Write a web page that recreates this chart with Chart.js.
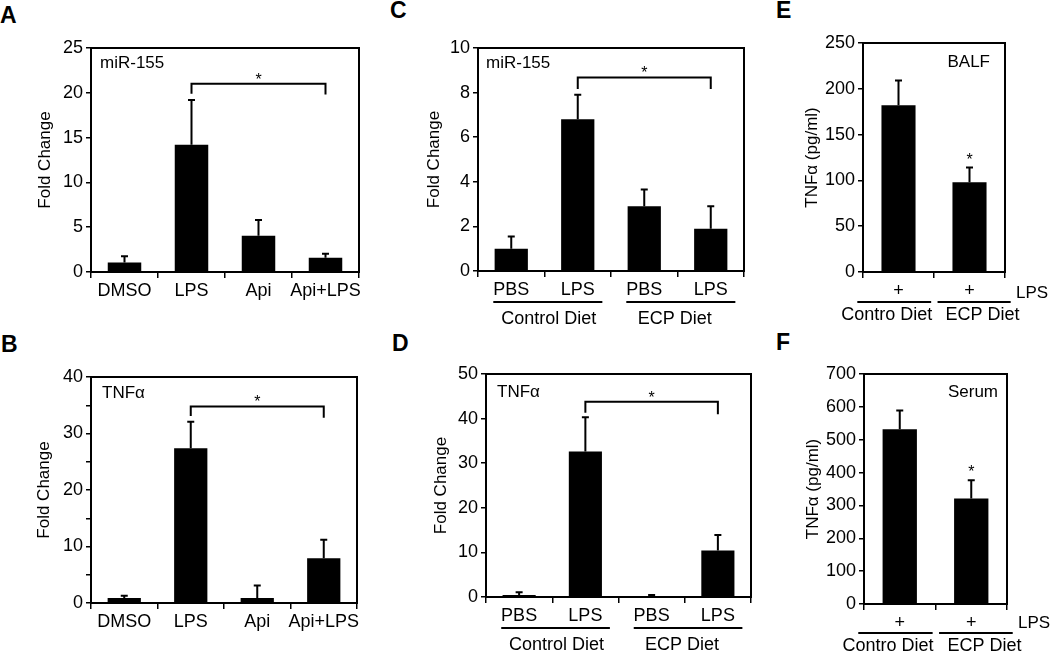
<!DOCTYPE html>
<html>
<head>
<meta charset="utf-8">
<script src="https://cdn.jsdelivr.net/npm/chart.js@4.4.1/dist/chart.umd.min.js"></script>
<style>
  body { margin: 0; width: 1050px; height: 654px; overflow: hidden; background: #fff; position: relative; }
  canvas { position: absolute; }
  .tag { position: absolute; font: bold 23px "Liberation Sans", Arial, sans-serif; line-height: 1; color: #000; }
</style>
</head>
<body>
<div class="tag" style="left:0px;top:4px">A</div>
<div class="tag" style="left:1px;top:333px">B</div>
<div class="tag" style="left:390px;top:-1px">C</div>
<div class="tag" style="left:392px;top:332px">D</div>
<div class="tag" style="left:776px;top:-1px">E</div>
<div class="tag" style="left:776px;top:331px">F</div>

<canvas id="cA"></canvas>
<canvas id="cB"></canvas>
<canvas id="cC"></canvas>
<canvas id="cD"></canvas>
<canvas id="cE"></canvas>
<canvas id="cF"></canvas>

<script>
// categories
const drugLabels = ['DMSO', 'LPS', 'Api', 'Api+LPS'];
const dietLabels = ['PBS', 'LPS', 'PBS', 'LPS'];
const dietGroups = ['Control Diet', 'ECP Diet'];
const lpsLabels = ['+', '+'];
const lpsGroups = ['Contro Diet', 'ECP Diet'];

// A: miR-155 fold change (cells)
const aMean = [1.05, 14.2, 4.05, 1.6];
const aSem = [0.7, 5.0, 1.75, 0.45];
// B: TNFa fold change (cells)
const bMean = [0.9, 27.4, 0.9, 7.9];
const bSem = [0.4, 4.7, 2.2, 3.3];
// C: miR-155 fold change (diet)
const cMean = [1.0, 6.8, 2.9, 1.9];
const cSem = [0.55, 1.1, 0.75, 1.0];
// D: TNFa fold change (diet)
const dMean = [0.45, 32.6, 0.2, 10.4];
const dSem = [0.6, 7.7, 0.25, 3.5];
// E: TNFa in BALF, pg/ml
const eMean = [182, 98];
const eSem = [27, 16];
// F: TNFa in serum, pg/ml
const fMean = [532, 321];
const fSem = [57, 56];

// y axes: [max, tick step, label every]
const aTicks = [25, 5, 5];
const bTicks = [40, 5, 10];
const cTicks = [10, 1, 2];
const dTicks = [50, 5, 10];
const eTicks = [250, 50, 50];
const fTicks = [700, 100, 100];

// significance brackets: [from, to, bracket value, left leg end, right leg end]
const aBracket = [1, 3, 21.0, 19.9, 19.8];
const bBracket = [1, 3, 34.8, 33.1, 32.8];
const cBracket = [1, 3, 8.68, 8.16, 8.16];
const dBracket = [1, 3, 43.8, 41.3, 41.0];
// star over the bar itself
const eSig = [false, true];
const fSig = [false, true];

const FONT = '"Liberation Sans", Arial, sans-serif';
const extras = {};

// error bars, box, brackets, labels that chart.js does not draw itself
const decorPlugin = {
    id: 'decor',
    afterDraw(chart) {
        const cfg = extras[chart.canvas.id];
        if (!cfg) return;
        const ctx = chart.ctx;
        const xs = chart.scales.x, ys = chart.scales.y, area = chart.chartArea;
        const mean = chart.data.datasets[0].data;
        const cw = (area.right - area.left) / mean.length;
        ctx.save();
        ctx.strokeStyle = '#000';
        ctx.fillStyle = '#000';
        ctx.lineWidth = 2;

        // frame round the plot
        ctx.strokeRect(area.left, area.top, area.right - area.left, area.bottom - area.top);

        // error bars (upper only)
        ctx.font = '16px ' + FONT;
        ctx.textAlign = 'center';
        ctx.textBaseline = 'alphabetic';
        cfg.sem.forEach((s, i) => {
            const px = xs.getPixelForValue(i);
            const y0 = ys.getPixelForValue(mean[i]);
            const y1 = ys.getPixelForValue(mean[i] + s);
            ctx.beginPath();
            ctx.moveTo(px, y0);
            ctx.lineTo(px, y1);
            ctx.moveTo(px - 3.5, y1);
            ctx.lineTo(px + 3.5, y1);
            ctx.stroke();
            if (cfg.sig && cfg.sig[i]) {
                ctx.fillText('*', px, y1 - 3);
            }
        });

        // bracket with star
        if (cfg.bracket) {
            const [i0, i1, v, e0, e1] = cfg.bracket;
            const x0 = xs.getPixelForValue(i0), x1 = xs.getPixelForValue(i1);
            const yy = ys.getPixelForValue(v);
            ctx.beginPath();
            ctx.moveTo(x0, ys.getPixelForValue(e0));
            ctx.lineTo(x0, yy);
            ctx.lineTo(x1, yy);
            ctx.lineTo(x1, ys.getPixelForValue(e1));
            ctx.stroke();
            ctx.fillText('*', (x0 + x1) / 2, yy + 1);
        }

        // label inside the plot
        ctx.font = '17px ' + FONT;
        ctx.textBaseline = 'middle';
        if (cfg.note) {
            const [align, dx, dy] = cfg.notePos;
            ctx.textAlign = align;
            const nx = align === 'left' ? area.left + dx : area.right - dx;
            ctx.fillText(cfg.note, nx, area.top + dy);
        }

        // group lines and names under the axis
        if (cfg.groups) {
            ctx.font = '18px ' + FONT;
            ctx.textAlign = 'center';
            cfg.spans.forEach((sp, g) => {
                const [first, last, a, b, shift] = sp;
                const gx0 = xs.getPixelForValue(first) - a * cw;
                const gx1 = xs.getPixelForValue(last) + b * cw;
                const ly = area.bottom + cfg.lineDy;
                ctx.beginPath();
                ctx.moveTo(gx0, ly);
                ctx.lineTo(gx1, ly);
                ctx.stroke();
                ctx.fillText(cfg.groups[g], (gx0 + gx1) / 2 + shift, area.bottom + cfg.textDy);
            });
        }
        if (cfg.side) {
            ctx.font = '17px ' + FONT;
            ctx.textAlign = 'left';
            ctx.fillText(cfg.side, area.right + 11, area.bottom + cfg.sideDy);
        }
        ctx.restore();
    }
};

function makePanel(p) {
    const canvas = document.getElementById(p.id);
    const padL = 70, padT = 20, padR = 50, padB = 62;
    canvas.width = (p.r - p.l) + padL + padR;
    canvas.height = (p.b - p.t) + padT + padB;
    canvas.style.left = (p.l - padL) + 'px';
    canvas.style.top = (p.t - padT) + 'px';
    extras[p.id] = p.extra;
    const [ymax, step, every] = p.ticks;

    new Chart(canvas, {
        type: 'bar',
        data: {
            labels: p.labels,
            datasets: [{
                data: p.mean,
                backgroundColor: '#000',
                borderWidth: 0,
                barPercentage: p.bar,
                categoryPercentage: 1
            }]
        },
        options: {
            responsive: false,
            animation: false,
            layout: { padding: { left: 0, top: padT, right: padR, bottom: 0 } },
            plugins: { legend: { display: false }, tooltip: { enabled: false } },
            scales: {
                x: {
                    offset: true,
                    afterFit: s => { s.height = padB; },
                    border: { display: true, color: '#000', width: 2 },
                    grid: { display: true, offset: true, drawOnChartArea: false, drawTicks: true, tickLength: 6, color: '#000', lineWidth: 1.5 },
                    ticks: { color: '#000', font: { family: FONT, size: 18 }, padding: 2, autoSkip: false, maxRotation: 0 }
                },
                y: {
                    min: 0,
                    max: ymax,
                    afterFit: s => { s.width = padL; },
                    border: { display: true, color: '#000', width: 2 },
                    grid: { display: true, drawOnChartArea: false, drawTicks: true, tickLength: 5, color: '#000', lineWidth: 1.5 },
                    ticks: {
                        stepSize: step,
                        color: '#000',
                        font: { family: FONT, size: 18 },
                        padding: 3,
                        callback: v => (v % every === 0 ? String(v) : '')
                    },
                    title: {
                        display: true,
                        text: p.title,
                        color: '#000',
                        font: { family: FONT, size: 17 },
                        padding: { top: padL - p.titleOff - 10.2, bottom: 0 }
                    }
                }
            }
        },
        plugins: [decorPlugin]
    });
}

// [first cat, last cat, reach left (x cat width), reach right, text shift px]
const dietSpans = [[0, 1, 0.27, 0.37, 1], [2, 3, 0.27, 0.37, -6]];
const lpsSpans = [[0, 0, 0.58, 0.46, -7.5], [1, 1, 0.45, 0.58, 8.5]];

makePanel({ id: 'cA', l: 91, t: 48, r: 359, b: 272, labels: drugLabels, mean: aMean, ticks: aTicks,
    title: 'Fold Change', titleOff: 46, bar: 0.5,
    extra: { sem: aSem, bracket: aBracket, note: 'miR-155', notePos: ['left', 9, 15] } });
makePanel({ id: 'cB', l: 91, t: 377, r: 357, b: 603, labels: drugLabels, mean: bMean, ticks: bTicks,
    title: 'Fold Change', titleOff: 47, bar: 0.5,
    extra: { sem: bSem, bracket: bBracket, note: 'TNFα', notePos: ['left', 11, 16] } });
makePanel({ id: 'cC', l: 478, t: 48, r: 744, b: 271, labels: dietLabels, mean: cMean, ticks: cTicks,
    title: 'Fold Change', titleOff: 44, bar: 0.5,
    extra: { sem: cSem, bracket: cBracket, note: 'miR-155', notePos: ['left', 8, 15],
        groups: dietGroups, spans: dietSpans, lineDy: 31, textDy: 48 } });
makePanel({ id: 'cD', l: 486, t: 374, r: 751, b: 597, labels: dietLabels, mean: dMean, ticks: dTicks,
    title: 'Fold Change', titleOff: 45, bar: 0.5,
    extra: { sem: dSem, bracket: dBracket, note: 'TNFα', notePos: ['left', 11, 18],
        groups: dietGroups, spans: dietSpans, lineDy: 31, textDy: 48 } });
makePanel({ id: 'cE', l: 863, t: 43, r: 1005, b: 272, labels: lpsLabels, mean: eMean, ticks: eTicks,
    title: 'TNFα (pg/ml)', titleOff: 50.5, bar: 0.48,
    extra: { sem: eSem, sig: eSig, note: 'BALF', notePos: ['right', 15, 19],
        groups: lpsGroups, spans: lpsSpans, lineDy: 30, textDy: 43, side: 'LPS', sideDy: 21 } });
makePanel({ id: 'cF', l: 864, t: 374, r: 1007, b: 604, labels: lpsLabels, mean: fMean, ticks: fTicks,
    title: 'TNFα (pg/ml)', titleOff: 51, bar: 0.48,
    extra: { sem: fSem, sig: fSig, note: 'Serum', notePos: ['right', 9, 18],
        groups: lpsGroups, spans: lpsSpans, lineDy: 29, textDy: 42.5, side: 'LPS', sideDy: 19 } });
</script>
</body>
</html>
